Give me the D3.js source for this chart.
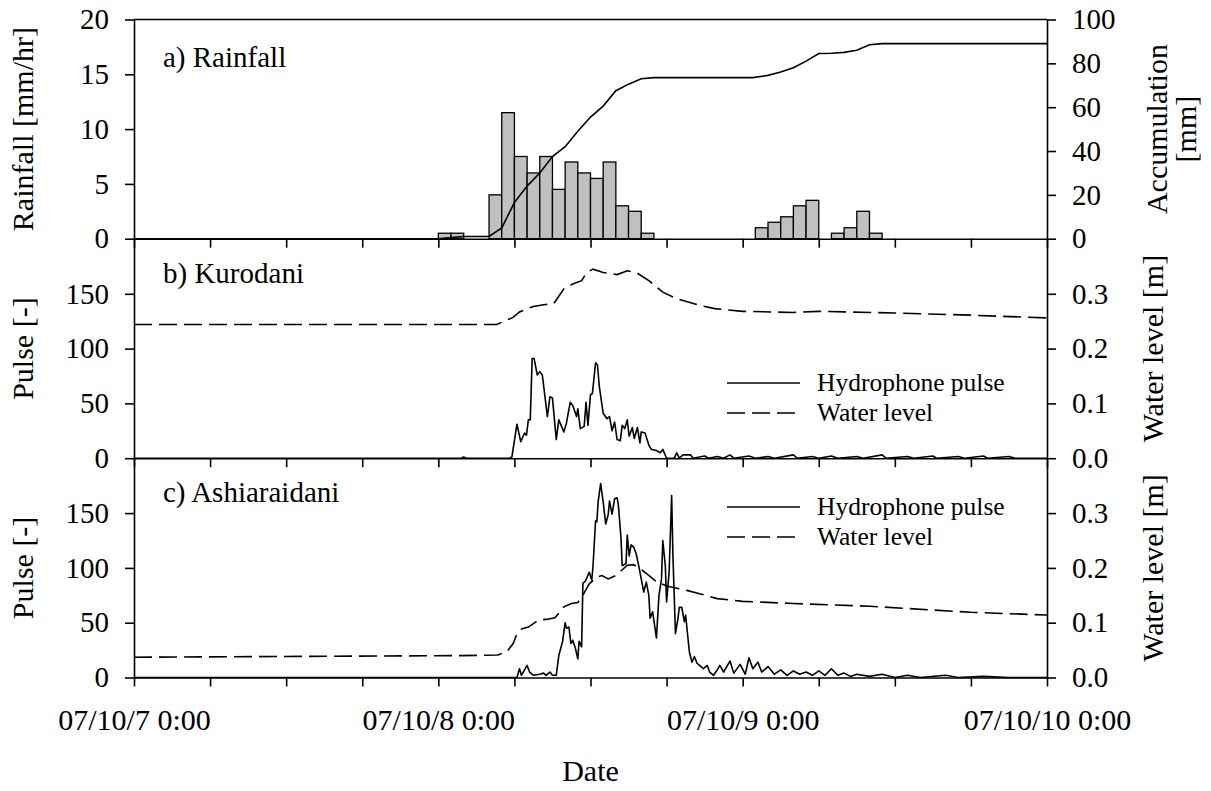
<!DOCTYPE html>
<html>
<head>
<meta charset="utf-8">
<script src="https://cdn.jsdelivr.net/npm/d3@7"></script>
<style>
  body { margin: 0; background: #fff; }
  text { font-family: "Liberation Serif", "Times New Roman", serif; fill: #000; }
</style>
</head>
<body>
<svg id="chart" width="1211" height="791"></svg>
<script>
// hours since 07/10/7 0:00
const dateTicks = [0, 24, 48, 72];
const dateLabels = ['07/10/7 0:00', '07/10/8 0:00', '07/10/9 0:00', '07/10/10 0:00'];

// hourly rainfall bars (start hour, mm/hr)
const rainHours = [24, 25, 28, 29, 30, 31, 32, 33, 34, 35, 36, 37, 38, 39, 40, 49, 50, 51, 52, 53, 55, 56, 57, 58];
const rainValues = [0.5, 0.5, 4, 11.5, 7.5, 6, 7.5, 4.5, 7, 6, 5.5, 7, 3, 2.5, 0.5, 1, 1.5, 2, 3, 3.5, 0.5, 1, 2.5, 0.5];

// accumulated rainfall [hour, mm]
const accumulation = [
  [0, 0], [24, 0], [25, 0.5], [26, 1], [28, 1], [29, 4.9], [30, 16.5], [31, 24], [32, 30],
  [33, 37.5], [34, 42], [35, 49], [36, 55.5], [37, 60.5], [38, 67.5], [39, 70.5], [40, 73],
  [41, 73.5], [48.8, 73.5], [50, 74.5], [51, 76], [52, 78], [53, 81], [54, 84.5], [55, 84.6],
  [56, 85], [57, 86], [58, 88.5], [59, 89], [72, 89]
];

// b) Kurodani [hour, pulse]
const kuroPulse = [
  [0, 0], [25.8, 0], [26, 1], [26.2, 0], [29.6, 0], [29.8, 1], [30.2, 31], [30.5, 15], [30.8, 23], [30.95, 21],
  [31.1, 35], [31.25, 35], [31.4, 91], [31.55, 91], [31.8, 76], [32.0, 79], [32.2, 76], [32.6, 38],
  [32.8, 56], [33.0, 55], [33.3, 17], [33.5, 35], [33.9, 24], [34.1, 32], [34.4, 51], [34.6, 48],
  [34.9, 38], [35.0, 45], [35.2, 27], [35.5, 29], [35.65, 51], [35.8, 30], [36.0, 58], [36.15, 59],
  [36.4, 87], [36.55, 85], [36.7, 65], [37.0, 41], [37.3, 36], [37.5, 38], [37.7, 25], [37.9, 33],
  [38.1, 17], [38.35, 16], [38.5, 30], [38.7, 27], [38.9, 35], [39.05, 20], [39.3, 28], [39.45, 18],
  [39.7, 28], [39.9, 14], [40.0, 24], [40.3, 23], [40.6, 12], [40.8, 8], [41.2, 7], [41.5, 5],
  [41.7, 8], [42.0, 0], [42.6, 0], [42.8, 5], [43.0, 0], [43.3, 3], [43.9, 3], [44.1, 0], [45, 2],
  [45.3, 0], [46, 1.5], [46.5, 0], [47, 3], [47.3, 0], [48.5, 2], [49, 0], [50, 1.5], [50.5, 0], [52, 3],
  [52.3, 0], [53.5, 1.5], [54, 0], [55, 2], [55.5, 0], [57, 1.5], [57.5, 0], [59, 3], [59.3, 0], [61, 1.5],
  [61.5, 0], [63, 2], [63.3, 0], [65, 1.5], [65.5, 0], [67, 2], [67.3, 0], [69, 1.5], [69.5, 0], [72, 0]
];
// b) Kurodani [hour, water level m]
const kuroLevel = [
  [0, 0.244], [28.6, 0.244], [29.9, 0.257], [30.4, 0.267], [31.5, 0.277], [32.3, 0.28], [33.1, 0.282],
  [33.9, 0.309], [34.6, 0.318], [35.3, 0.324], [35.7, 0.339], [36.2, 0.345], [37.0, 0.339],
  [38.1, 0.335], [38.9, 0.342], [39.6, 0.339], [40.6, 0.324], [41.7, 0.303], [42.8, 0.291],
  [44.6, 0.279], [45.8, 0.273], [48, 0.268], [52, 0.266], [54, 0.268], [56, 0.267], [60, 0.265],
  [66, 0.261], [72, 0.256]
];

// c) Ashiaraidani [hour, pulse]
const ashiPulse = [
  [0, 0], [30.2, 0], [30.4, 8], [30.55, 2], [30.8, 7], [31.0, 11], [31.2, 5], [31.5, 2], [32.0, 3],
  [32.3, 4], [32.5, 2], [32.8, 5], [33.0, 2], [33.3, 2], [33.5, 20], [33.8, 33], [34.0, 50], [34.1, 45],
  [34.3, 46], [34.45, 31], [34.6, 34], [34.8, 27], [35.0, 17], [35.1, 33], [35.3, 28], [35.4, 86],
  [35.6, 88], [35.9, 96], [36.1, 89], [36.2, 102], [36.4, 143], [36.5, 142], [36.6, 160], [36.8, 177],
  [37.0, 160], [37.2, 140], [37.4, 149], [37.5, 161], [37.7, 149], [37.9, 163], [38.1, 164],
  [38.2, 157], [38.4, 128], [38.5, 102], [38.8, 104], [38.9, 130], [39.05, 111], [39.2, 121],
  [39.4, 119], [39.6, 113], [39.8, 102], [40.0, 90], [40.2, 78], [40.4, 87], [40.6, 75], [40.7, 54],
  [40.9, 60], [41.2, 36], [41.4, 75], [41.6, 90], [41.7, 125], [41.9, 102], [42.0, 69], [42.2, 96],
  [42.4, 166], [42.5, 111], [42.7, 40], [42.9, 54], [43.0, 64], [43.2, 64], [43.4, 51], [43.5, 57],
  [43.8, 23], [44.0, 14], [44.2, 19], [44.4, 13], [44.6, 11], [44.9, 8], [45.2, 11], [45.4, 5],
  [45.7, 2], [46.0, 7], [46.2, 11], [46.5, 5], [47, 15], [47.3, 4], [47.8, 12], [48.2, 3], [48.5, 18],
  [48.8, 8], [49.2, 14], [49.5, 5], [50, 10], [50.5, 3], [51, 7], [51.5, 2], [52, 6], [52.5, 3],
  [53, 5], [53.5, 2], [54, 6], [54.5, 2], [55, 8], [55.5, 2], [56, 4], [56.5, 1], [57, 3], [58, 1],
  [59, 3], [60, 0], [61, 2], [62, 0], [64, 2], [65, 0], [67, 1], [69, 0], [72, 0]
];
// c) Ashiaraidani [hour, water level m]
const ashiLevel = [
  [0, 0.037], [25.8, 0.04], [28.7, 0.041], [29.4, 0.047], [29.9, 0.062], [30.2, 0.08], [30.6, 0.089],
  [31.1, 0.092], [31.9, 0.105], [32.5, 0.106], [33.2, 0.109], [33.9, 0.129], [34.5, 0.135],
  [35.0, 0.137], [35.4, 0.15], [35.9, 0.171], [36.5, 0.183], [36.9, 0.186], [37.4, 0.18],
  [38.0, 0.186], [38.9, 0.205], [39.4, 0.206], [39.9, 0.199], [40.4, 0.19], [41.2, 0.175],
  [42.0, 0.167], [42.8, 0.163], [43.6, 0.159], [44.6, 0.153], [46, 0.144], [48, 0.139],
  [52, 0.135], [58, 0.13], [66, 0.119], [72, 0.114]
];

const W = 1211, H = 791;
const left = 134, right = 1047;
const panelTop = [19.5, 239, 458.3];
const panelH = 219.2;
const lw = 1.6;

const svg = d3.select('#chart');
svg.append('rect').attr('width', W).attr('height', H).attr('fill', '#fff');

const x = d3.scaleLinear().domain([0, 72]).range([left, right]);

function styleAxis(g, size) {
  g.attr('font-family', '"Liberation Serif", "Times New Roman", serif').attr('font-size', size);
  g.selectAll('path, line').attr('stroke', '#000').attr('stroke-width', lw);
}

function panelY(i, max) {
  return d3.scaleLinear().domain([0, max]).range([panelTop[i] + panelH, panelTop[i]]);
}

// x axes at the bottom of each panel
panelTop.forEach((t, i) => {
  const ax = d3.axisBottom(x).tickValues(d3.range(0, 73, 6)).tickSize(9).tickSizeOuter(0)
    .tickPadding(22)
    .tickFormat(d => i === 2 && dateTicks.includes(d) ? dateLabels[dateTicks.indexOf(d)] : '');
  const g = svg.append('g').attr('transform', `translate(0,${t + panelH})`).call(ax);
  styleAxis(g, 30);
});
// top border
svg.append('line').attr('x1', left).attr('x2', right).attr('y1', panelTop[0]).attr('y2', panelTop[0])
  .attr('stroke', '#000').attr('stroke-width', lw);

// ---- a) rainfall
const yRain = panelY(0, 20);
const yAcc = panelY(0, 100);
svg.append('g').selectAll('rect').data(rainHours).enter().append('rect')
  .attr('x', d => x(d))
  .attr('width', d => x(d + 1) - x(d))
  .attr('y', (d, i) => yRain(rainValues[i]))
  .attr('height', (d, i) => yRain(0) - yRain(rainValues[i]))
  .attr('fill', '#c0c0c0').attr('stroke', '#000').attr('stroke-width', 1.3);

const line = (ys) => d3.line().x(d => x(d[0])).y(d => ys(d[1]));
svg.append('path').datum(accumulation).attr('d', line(yAcc))
  .attr('fill', 'none').attr('stroke', '#000').attr('stroke-width', lw);

let g = svg.append('g').attr('transform', `translate(${left},0)`)
  .call(d3.axisLeft(yRain).tickValues([0, 5, 10, 15, 20]).tickSize(9).tickSizeOuter(0).tickPadding(16));
styleAxis(g, 29);
g = svg.append('g').attr('transform', `translate(${right},0)`)
  .call(d3.axisRight(yAcc).tickValues([0, 20, 40, 60, 80, 100]).tickSize(9).tickSizeOuter(0).tickPadding(16));
styleAxis(g, 29);

// ---- b) and c) hydrophone panels
const panels = [
  { i: 1, pulse: kuroPulse, level: kuroLevel, name: 'b) Kurodani', legendY: 383 },
  { i: 2, pulse: ashiPulse, level: ashiLevel, name: 'c) Ashiaraidani', legendY: 507 }
];
panels.forEach(p => {
  const yP = panelY(p.i, 200);
  const yL = panelY(p.i, 0.4);
  svg.append('path').datum(p.level).attr('d', line(yL))
    .attr('fill', 'none').attr('stroke', '#000').attr('stroke-width', lw)
    .attr('stroke-dasharray', '18,7');
  svg.append('path').datum(p.pulse).attr('d', line(yP))
    .attr('fill', 'none').attr('stroke', '#000').attr('stroke-width', lw)
    .attr('stroke-linejoin', 'round');

  let ga = svg.append('g').attr('transform', `translate(${left},0)`)
    .call(d3.axisLeft(yP).tickValues([0, 50, 100, 150]).tickSize(9).tickSizeOuter(0).tickPadding(16));
  styleAxis(ga, 29);
  ga = svg.append('g').attr('transform', `translate(${right},0)`)
    .call(d3.axisRight(yL).tickValues([0, 0.1, 0.2, 0.3]).tickSize(9).tickSizeOuter(0).tickPadding(16)
      .tickFormat(d3.format('.1f')));
  styleAxis(ga, 29);

  // legend
  const lg = svg.append('g');
  [['Hydrophone pulse', null], ['Water level', '18,7']].forEach((e, k) => {
    const ly = p.legendY + k * 30;
    lg.append('line').attr('x1', 727).attr('x2', 800).attr('y1', ly).attr('y2', ly)
      .attr('stroke', '#000').attr('stroke-width', lw).attr('stroke-dasharray', e[1]);
    lg.append('text').attr('x', 817).attr('y', ly + 8).attr('font-size', 25.5).text(e[0]);
  });

  svg.append('text').attr('x', 163).attr('y', panelTop[p.i] + 44).attr('font-size', 29).text(p.name);
  svg.append('text').attr('transform', `translate(33,${panelTop[p.i] + panelH / 2}) rotate(-90)`)
    .attr('text-anchor', 'middle').attr('font-size', 30).text('Pulse [-]');
  svg.append('text').attr('transform', `translate(1163,${panelTop[p.i] + panelH / 2}) rotate(-90)`)
    .attr('text-anchor', 'middle').attr('font-size', 30).text('Water level [m]');
});

// ---- labels panel a
svg.append('text').attr('x', 163).attr('y', panelTop[0] + 47).attr('font-size', 29).text('a) Rainfall');
svg.append('text').attr('transform', `translate(33,${panelTop[0] + panelH / 2}) rotate(-90)`)
  .attr('text-anchor', 'middle').attr('font-size', 30).text('Rainfall [mm/hr]');
const accTitle = svg.append('text').attr('transform', `translate(1167,${panelTop[0] + panelH / 2}) rotate(-90)`)
  .attr('text-anchor', 'middle').attr('font-size', 30);
accTitle.append('tspan').attr('x', 0).attr('dy', 0).text('Accumulation');
accTitle.append('tspan').attr('x', 0).attr('dy', 29).text('[mm]');

// x title
svg.append('text').attr('x', (left + right) / 2).attr('y', 781).attr('text-anchor', 'middle')
  .attr('font-size', 30).text('Date');
</script>
</body>
</html>
